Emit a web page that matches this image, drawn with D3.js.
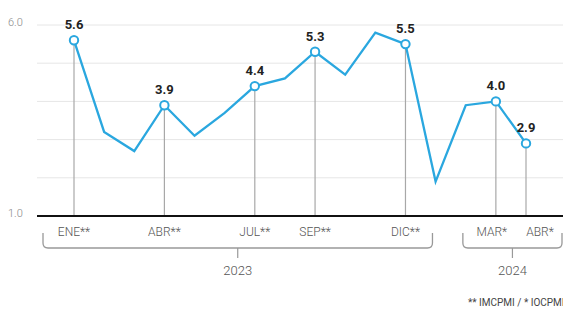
<!DOCTYPE html>
<html><head><meta charset="utf-8">
<script src="https://cdn.jsdelivr.net/npm/d3@7"></script>
<style>
html,body{margin:0;padding:0;background:#fff;}
svg{display:block;}
</style></head>
<body>
<svg id="c" width="563" height="311"></svg>
<script>
const months = ["ENE23","FEB23","MAR23","ABR23","MAY23","JUN23","JUL23","AGO23","SEP23","OCT23","NOV23","DIC23","ENE24","FEB24","MAR24","ABR24"];
const values = [5.6,3.2,2.7,3.9,3.1,3.7,4.4,4.6,5.3,4.7,5.8,5.5,1.9,3.9,4.0,2.9];
const tickLabels = ["ENE**","","","ABR**","","","JUL**","","SEP**","","","DIC**","","","MAR*","ABR*"];
const yTicks = [1,2,3,4,5,6];
const yTickLabels = ["1.0","","","","","6.0"];
const years = ["2023","2024"];
const yearRanges = [[0,11],[14,15]];
const footnote = "** IMCPMI / * IOCPMI";

const svg = d3.select("#c");
const x = d3.scalePoint().domain(months).range([74,526]);
const y = d3.scaleLinear().domain([1,6]).range([216,25]);
const blue = "#2aa7df";
const font = "Roboto, 'Open Sans', sans-serif";
const labelShift = {"MAR24":-4,"ABR24":14};

// gridlines
svg.append("g").selectAll("line").data(yTicks.slice(1)).join("line")
  .attr("x1",37).attr("x2",563).attr("y1",d=>y(d)).attr("y2",d=>y(d))
  .attr("stroke","#e6e6e6").attr("stroke-width",1);

// y labels
svg.append("g").selectAll("text").data(yTicks.filter((d,i)=>yTickLabels[i])).join("text")
  .attr("x",8).attr("y",d=>y(d)+1)
  .attr("font-family",font).attr("font-size",11).attr("font-weight",300)
  .attr("fill","#888").text(d=>yTickLabels[yTicks.indexOf(d)]);

// drop lines for labeled points
const labeled = months.map((m,i)=>i).filter(i=>tickLabels[i]);
svg.append("g").selectAll("line").data(labeled).join("line")
  .attr("x1",i=>x(months[i])).attr("x2",i=>x(months[i]))
  .attr("y1",i=>y(values[i])).attr("y2",y(1))
  .attr("stroke","#a8a8a8").attr("stroke-width",1.2);

// baseline
svg.append("line").attr("x1",37).attr("x2",563).attr("y1",y(1)).attr("y2",y(1))
  .attr("stroke","#111").attr("stroke-width",2);

// line
svg.append("path").datum(values)
  .attr("d",d3.line().x((d,i)=>x(months[i])).y(d=>y(d)))
  .attr("fill","none").attr("stroke",blue).attr("stroke-width",2.3).attr("stroke-linejoin","miter");

// circles
svg.append("g").selectAll("circle").data(labeled).join("circle")
  .attr("cx",i=>x(months[i])).attr("cy",i=>y(values[i])).attr("r",4.2)
  .attr("fill","#fff").attr("stroke",blue).attr("stroke-width",2);

// value labels
svg.append("g").selectAll("text").data(labeled).join("text")
  .attr("x",i=>x(months[i])).attr("y",i=>y(values[i])-11)
  .attr("text-anchor","middle").attr("font-family",font).attr("font-weight",700)
  .attr("font-size",13).attr("fill","#222").text(i=>values[i].toFixed(1));

// x tick labels
svg.append("g").selectAll("text").data(labeled).join("text")
  .attr("x",i=>x(months[i])+(labelShift[months[i]]||0)).attr("y",236)
  .attr("text-anchor","middle").attr("font-family",font).attr("font-weight",300)
  .attr("font-size",12).attr("fill","#555").text(i=>tickLabels[i]);

// year brackets
const pads = [[31,27],[33,36]];
yearRanges.forEach((r,k)=>{
  const l = x(months[r[0]])-pads[k][0], rr = x(months[r[1]])+pads[k][1];
  const top=233, bot=248, rad=5;
  const p = d3.path();
  p.moveTo(l,top); p.lineTo(l,bot-rad); p.quadraticCurveTo(l,bot,l+rad,bot);
  p.lineTo(rr-rad,bot); p.quadraticCurveTo(rr,bot,rr,bot-rad); p.lineTo(rr,top);
  svg.append("path").attr("d",p.toString()).attr("fill","none").attr("stroke","#999").attr("stroke-width",1.3);
  const mid=(l+rr)/2;
  svg.append("line").attr("x1",mid).attr("x2",mid).attr("y1",bot).attr("y2",258)
    .attr("stroke","#999").attr("stroke-width",1.2);
  svg.append("text").attr("x",mid).attr("y",275).attr("text-anchor","middle")
    .attr("font-family",font).attr("font-weight",300).attr("font-size",13).attr("fill","#555").text(years[k]);
});

// footnote (cut off at the right edge, as in the reference)
svg.append("text").attr("x",468).attr("y",306).attr("font-family",font)
  .attr("font-size",10).attr("fill","#444").text(footnote);
</script>
</body></html>
